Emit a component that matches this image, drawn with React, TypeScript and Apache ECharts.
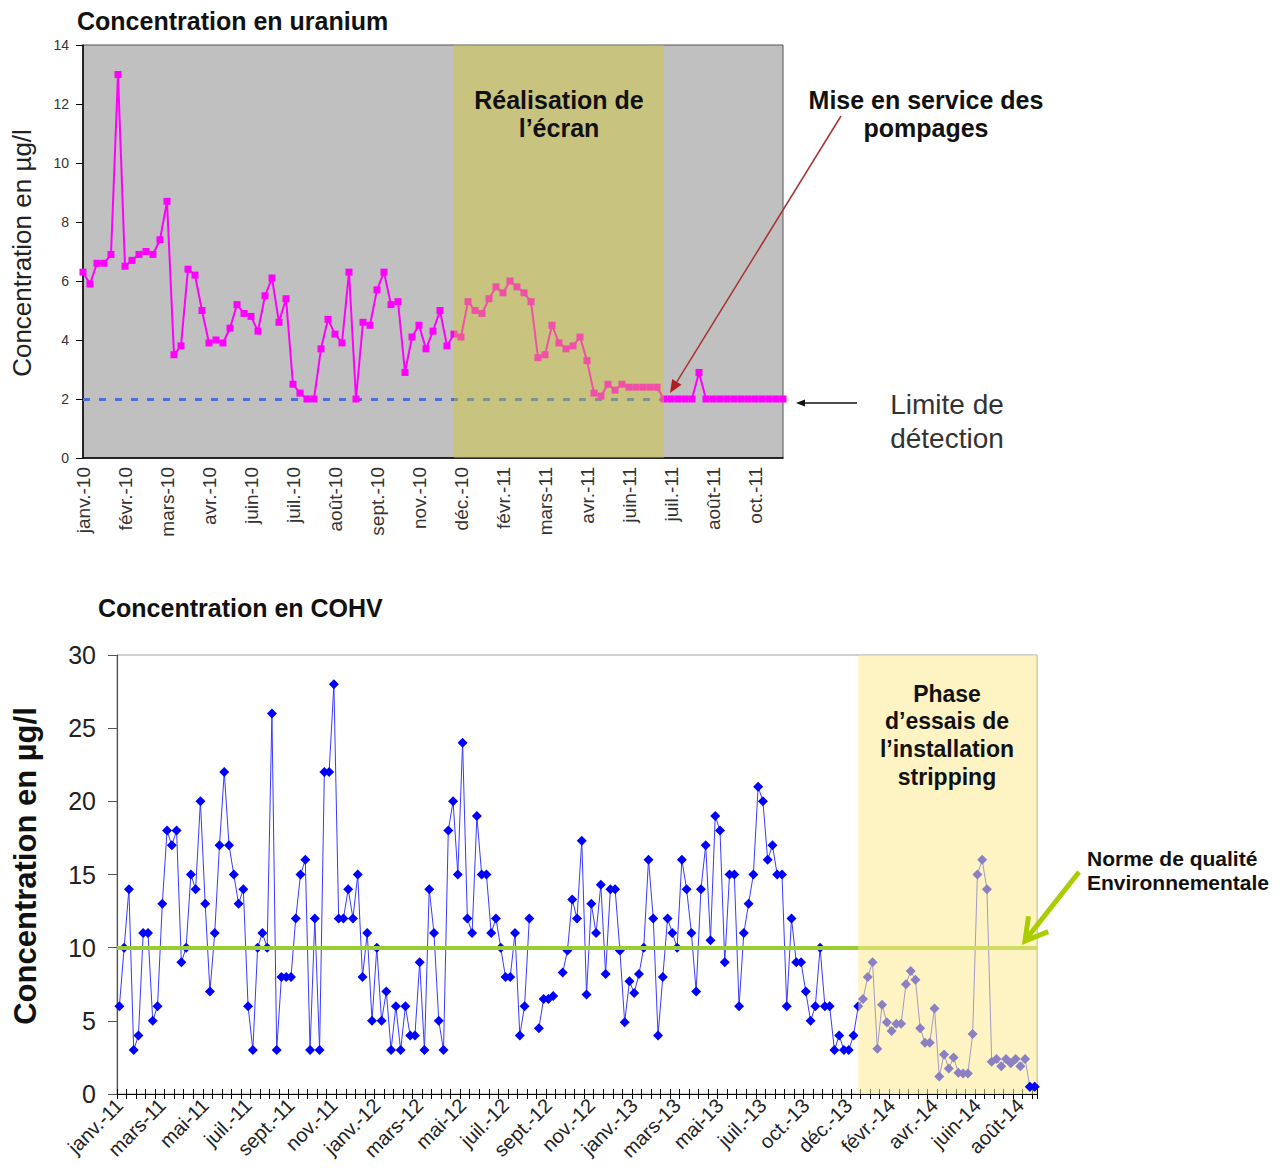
import { useEffect, useRef } from 'react';
import * as echarts from 'echarts';

// ---------- Uranium chart data (one point per sample, category axis) ----------
const uraniumValues = [
  6.3, 5.9, 6.6, 6.6, 6.9, 13.0, 6.5, 6.7, 6.9, 7.0,
  6.9, 7.4, 8.7, 3.5, 3.8, 6.4, 6.2, 5.0, 3.9, 4.0,
  3.9, 4.4, 5.2, 4.9, 4.8, 4.3, 5.5, 6.1, 4.6, 5.4,
  2.5, 2.2, 2.0, 2.0, 3.7, 4.7, 4.2, 3.9, 6.3, 2.0,
  4.6, 4.5, 5.7, 6.3, 5.2, 5.3, 2.9, 4.1, 4.5, 3.7,
  4.3, 5.0, 3.8, 4.2, 4.1, 5.3, 5.0, 4.9, 5.4, 5.8,
  5.6, 6.0, 5.8, 5.6, 5.3, 3.4, 3.5, 4.5, 3.9, 3.7,
  3.8, 4.1, 3.3, 2.2, 2.1, 2.5, 2.3, 2.5, 2.4, 2.4,
  2.4, 2.4, 2.4, 2.0, 2.0, 2.0, 2.0, 2.0, 2.9, 2.0,
  2.0, 2.0, 2.0, 2.0, 2.0, 2.0, 2.0, 2.0, 2.0, 2.0, 2.0,
];
const uraniumTickLabels = [
  'janv.-10', 'févr.-10', 'mars-10', 'avr.-10', 'juin-10', 'juil.-10', 'août-10', 'sept.-10',
  'nov.-10', 'déc.-10', 'févr.-11', 'mars-11', 'avr.-11', 'juin-11', 'juil.-11', 'août-11', 'oct.-11',
];
const uraniumLabelStep = 6;
const uraniumBand = [53, 83];
const detectionLimit = 2;
const detectionLineEnd = 83;
const uraniumYTicks = { min: 0, max: 14, interval: 2 };

// ---------- COHV chart data ----------
const cohvValues: (number | null)[] = [
  6, 10, 14, 3, 4, 11, 11, 5, 6, 13,
  18, 17, 18, 9, 10, 15, 14, 20, 13, 7,
  11, 17, 22, 17, 15, 13, 14, 6, 3, 10,
  11, 10, 26, 3, 8, 8, 8, 12, 15, 16,
  3, 12, 3, 22, 22, 28, 12, 12, 14, 12,
  15, 8, 11, 5, 10, 5, 7, 3, 6, 3,
  6, 4, 4, 9, 3, 14, 11, 5, 3, 18,
  20, 15, 24, 12, 11, 19, 15, 15, 11, 12,
  10, 8, 8, 11, 4, 6, 12, null, 4.5, 6.5,
  6.5, 6.7, null, 8.3, 9.8, 13.3, 12, 17.3, 6.8, 13,
  11, 14.3, 8.2, 14, 14, 9.8, 4.9, 7.7, 6.9, 8.2,
  10, 16, 12, 4, 8, 12, 11, 10, 16, 14,
  11, 7, 14, 17, 10.5, 19, 18, 9, 15, 15,
  6, 11, 13, 15, 21, 20, 16, 17, 15, 15,
  6, 12, 9, 9, 7, 5, 6, 10, 6, 6,
  3, 4, 3, 3, 4, 6, 6.5, 8, 9, 3.1,
  6.1, 4.9, 4.3, 4.8, 4.8, 7.5, 8.4, 7.8, 4.5, 3.5,
  3.5, 5.85, 1.2, 2.7, 1.75, 2.5, 1.45, 1.4, 1.4, 4.1,
  15, 16, 14, 2.2, 2.4, 1.9, 2.4, 2.1, 2.4, 1.9,
  2.4, 0.5, 0.5,
];
const cohvTickLabels = [
  'janv.-11', 'mars-11', 'mai-11', 'juil.-11', 'sept.-11', 'nov.-11',
  'janv.-12', 'mars-12', 'mai-12', 'juil.-12', 'sept.-12', 'nov.-12',
  'janv.-13', 'mars-13', 'mai-13', 'juil.-13', 'oct.-13', 'déc.-13',
  'févr.-14', 'avr.-14', 'juin-14', 'août-14',
];
const cohvLabelStep = 9;
const cohvBandStart = 155;
const cohvFinalCount = 2;
const qualityNorm = 10;
const cohvYTicks = { min: 0, max: 30, interval: 5 };

const FONT = '"Liberation Sans", Arial, Helvetica, sans-serif';

const uraniumCategories = uraniumValues.map((_, i) => String(i));
const cohvCategories = cohvValues.map((_, i) => String(i));
const cohvFinal = cohvValues.map((v, i) => (i >= cohvValues.length - cohvFinalCount ? v : null));

function arrowHead(x1: number, y1: number, x2: number, y2: number, len: number, half: number) {
  const dx = x2 - x1, dy = y2 - y1;
  const L = Math.hypot(dx, dy);
  const ux = dx / L, uy = dy / L;
  const bx = x2 - ux * len, by = y2 - uy * len;
  return [[x2, y2], [bx - uy * half, by + ux * half], [bx + uy * half, by - ux * half]];
}

function chevron(x1: number, y1: number, x2: number, y2: number, arm: number, angDeg: number) {
  const dx = x1 - x2, dy = y1 - y2;
  const L = Math.hypot(dx, dy);
  const ux = dx / L, uy = dy / L;
  const a = (angDeg * Math.PI) / 180;
  const rot = (s: number) => [
    x2 + arm * (ux * Math.cos(s * a) - uy * Math.sin(s * a)),
    y2 + arm * (ux * Math.sin(s * a) + uy * Math.cos(s * a)),
  ];
  return [rot(1), [x2, y2], rot(-1)];
}

function txt(text: string, x: number, y: number, size: number, weight: string, o: any = {}) {
  const align = o.align || 'center';
  return {
    type: 'text',
    x,
    y,
    z: 100,
    rotation: o.rotation || 0,
    style: {
      text,
      fill: o.fill || '#111',
      font: `${weight} ${size}px ${FONT}`,
      textAlign: align,
      align,
      textVerticalAlign: 'middle',
      verticalAlign: 'middle',
    },
  };
}

function buildOption() {
  const redHead = arrowHead(841, 116, 670, 393, 13, 5.5);
  const blackHead = arrowHead(857, 403, 796, 403, 9, 3.5);
  const greenArrow = chevron(1079, 872, 1025, 941, 25, 30);

  return {
    animation: false,
    textStyle: { fontFamily: FONT },
    grid: [
      {
        left: 83, top: 45, width: 700, height: 413,
        show: true, backgroundColor: '#c0c0c0', borderColor: '#555', borderWidth: 1,
      },
      {
        left: 117, top: 655, width: 920, height: 439,
        show: true, backgroundColor: 'transparent', borderColor: '#a0a0a0', borderWidth: 1,
      },
    ],
    xAxis: [
      {
        gridIndex: 0,
        type: 'category',
        data: uraniumCategories,
        boundaryGap: false,
        axisLine: { show: true, lineStyle: { color: '#000', width: 1.5 } },
        axisTick: { show: false },
        splitLine: { show: false },
        axisLabel: {
          interval: uraniumLabelStep - 1,
          rotate: 90,
          margin: 9,
          fontSize: 19,
          color: '#333',
          fontFamily: FONT,
          formatter: (_v: string, i: number) => uraniumTickLabels[i / uraniumLabelStep] ?? '',
        },
      },
      {
        gridIndex: 1,
        type: 'category',
        data: cohvCategories,
        boundaryGap: true,
        axisLine: { show: true, lineStyle: { color: '#000', width: 1 } },
        axisTick: { show: true, interval: 1, length: 5, lineStyle: { color: '#000' } },
        splitLine: { show: false },
        axisLabel: {
          interval: cohvLabelStep - 1,
          rotate: 45,
          margin: 8,
          fontSize: 20,
          color: '#222',
          fontFamily: FONT,
          formatter: (_v: string, i: number) => cohvTickLabels[i / cohvLabelStep] ?? '',
        },
      },
      {
        gridIndex: 1,
        type: 'category',
        data: cohvCategories,
        boundaryGap: true,
        position: 'bottom',
        axisLine: { show: false },
        axisTick: { show: true, inside: true, interval: 1, length: 5, lineStyle: { color: '#000' } },
        axisLabel: { show: false },
        splitLine: { show: false },
      },
    ],
    yAxis: [
      {
        gridIndex: 0,
        type: 'value',
        ...uraniumYTicks,
        axisLine: { show: true, lineStyle: { color: '#000', width: 1.5 } },
        axisTick: { show: true, length: 7, lineStyle: { color: '#000' } },
        splitLine: { show: false },
        axisLabel: { fontSize: 14, color: '#333', margin: 14, fontFamily: FONT },
      },
      {
        gridIndex: 1,
        type: 'value',
        ...cohvYTicks,
        axisLine: { show: true, lineStyle: { color: '#555', width: 1.2 } },
        axisTick: { show: true, length: 9, lineStyle: { color: '#555' } },
        splitLine: { show: false },
        axisLabel: { fontSize: 25, color: '#222', margin: 21, fontFamily: FONT },
      },
    ],
    series: [
      {
        name: 'Uranium',
        type: 'line',
        xAxisIndex: 0,
        yAxisIndex: 0,
        data: uraniumValues,
        z: 3,
        symbol: 'rect',
        symbolSize: 7,
        showAllSymbol: true,
        itemStyle: { color: '#ff00ff' },
        lineStyle: { color: '#ff00ff', width: 2 },
        markLine: {
          z: 1,
          silent: true,
          symbol: 'none',
          label: { show: false },
          lineStyle: { color: '#4a70d8', width: 3, type: [7, 9] },
          data: [[{ coord: [0, detectionLimit] }, { coord: [detectionLineEnd, detectionLimit] }]],
        },
      },
      {
        name: 'bandU',
        type: 'line',
        xAxisIndex: 0,
        yAxisIndex: 0,
        data: [],
        markArea: {
          z: 10,
          silent: true,
          itemStyle: { color: 'rgba(212,202,32,0.4)' },
          data: [[{ xAxis: uraniumBand[0] }, { xAxis: uraniumBand[1] }]],
        },
      },
      {
        name: 'COHV',
        type: 'line',
        xAxisIndex: 1,
        yAxisIndex: 1,
        data: cohvValues,
        connectNulls: false,
        z: 3,
        symbol: 'diamond',
        symbolSize: 10,
        showAllSymbol: true,
        itemStyle: { color: '#0000ff' },
        lineStyle: { color: '#3a3aff', width: 1 },
        markLine: {
          z: 5,
          silent: true,
          symbol: 'none',
          label: { show: false },
          lineStyle: { color: '#9acd32', width: 4, type: 'solid' },
          data: [{ yAxis: qualityNorm }],
        },
      },
      {
        name: 'bandC',
        type: 'line',
        xAxisIndex: 1,
        yAxisIndex: 1,
        data: [],
        markArea: {
          z: 10,
          silent: true,
          itemStyle: { color: 'rgba(251,233,146,0.55)' },
          data: [[{ xAxis: cohvBandStart }, {}]],
        },
      },
      {
        name: 'COHV fin',
        type: 'line',
        xAxisIndex: 1,
        yAxisIndex: 1,
        data: cohvFinal,
        z: 20,
        symbol: 'diamond',
        symbolSize: 10,
        showAllSymbol: true,
        itemStyle: { color: '#0000ff' },
        lineStyle: { color: '#3a3aff', width: 1 },
      },
    ],
    graphic: [
      txt('Concentration en uranium', 77, 21, 25, 'bold', { align: 'left' }),
      txt('Concentration en µg/l', 22, 253, 26, 'normal', { rotation: Math.PI / 2, fill: '#222' }),
      txt('Réalisation de', 559, 100, 25, 'bold'),
      txt('l’écran', 559, 128, 25, 'bold'),
      txt('Mise en service des', 926, 100, 25, 'bold'),
      txt('pompages', 926, 128, 25, 'bold'),
      txt('Limite de', 947, 404, 28, 'normal', { fill: '#333' }),
      txt('détection', 947, 438, 28, 'normal', { fill: '#333' }),
      {
        type: 'line', z: 100,
        shape: { x1: 841, y1: 116, x2: (redHead[1][0] + redHead[2][0]) / 2, y2: (redHead[1][1] + redHead[2][1]) / 2 },
        style: { stroke: '#a83232', lineWidth: 1.5 },
      },
      { type: 'polygon', z: 100, shape: { points: redHead }, style: { fill: '#b02020' } },
      {
        type: 'line', z: 100,
        shape: { x1: 857, y1: 403, x2: 802, y2: 403 },
        style: { stroke: '#111', lineWidth: 1.5 },
      },
      { type: 'polygon', z: 100, shape: { points: blackHead }, style: { fill: '#111' } },

      txt('Concentration en COHV', 98, 608, 25, 'bold', { align: 'left' }),
      txt('Concentration en µg/l', 25, 866, 31, 'bold', { rotation: Math.PI / 2 }),
      txt('Phase', 947, 694, 23, 'bold'),
      txt('d’essais de', 947, 721, 23, 'bold'),
      txt('l’installation', 947, 749, 23, 'bold'),
      txt('stripping', 947, 777, 23, 'bold'),
      txt('Norme de qualité', 1087, 858, 21, 'bold', { align: 'left' }),
      txt('Environnementale', 1087, 882, 21, 'bold', { align: 'left' }),
      {
        type: 'line', z: 100,
        shape: { x1: 1079, y1: 872, x2: 1027, y2: 938 },
        style: { stroke: '#aacc00', lineWidth: 5 },
      },
      {
        type: 'polyline', z: 100,
        shape: { points: greenArrow },
        style: { stroke: '#aacc00', lineWidth: 5, fill: null, lineJoin: 'miter' },
      },
    ],
  };
}

export default function App() {
  const ref = useRef<HTMLDivElement>(null);
  useEffect(() => {
    if (!ref.current) return;
    const chart = echarts.init(ref.current, null, { renderer: 'svg' });
    chart.setOption(buildOption() as any);
    return () => chart.dispose();
  }, []);
  return (
    <div
      ref={ref}
      style={{ position: 'fixed', left: 0, top: 0, width: 1285, height: 1175, background: '#ffffff' }}
    />
  );
}
